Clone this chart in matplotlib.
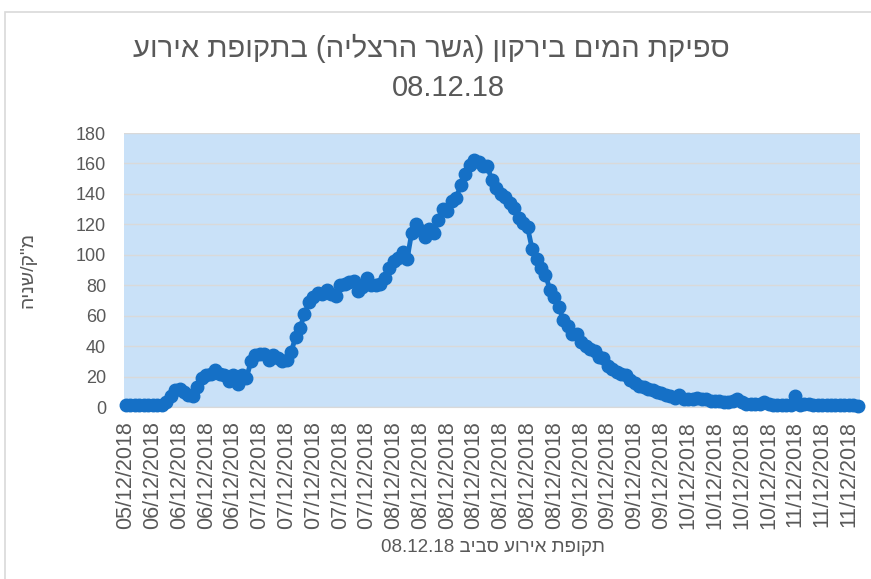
import matplotlib
matplotlib.use("Agg")
import matplotlib.pyplot as plt
from matplotlib.patches import Rectangle

plt.rcParams['font.family'] = ['Liberation Sans', 'DejaVu Sans']

TEXT_COLOR = '#595959'
GRID_COLOR = '#D9D9D9'
LINE_COLOR = '#1570C6'
PLOT_BG = '#C9E1F8'

# logical order of the Hebrew strings; visual() flips them since matplotlib does no bidi
title_line1 = 'ספיקת המים בירקון (גשר הרצליה) בתקופת אירוע'
title_line2 = '08.12.18'
x_title = 'תקופת אירוע סביב'
x_title_date = '08.12.18'
y_title = 'מ"ק/שניה'


def visual(s):
    mirror = {'(': ')', ')': '('}
    return ''.join(mirror.get(c, c) for c in reversed(s))


# flow readings (m^3/s), one per sample along the category axis
flow = [
    1, 1, 1, 1, 1, 1, 1, 1, 1.5, 3,
    7, 11, 12, 10, 8, 7, 13, 19, 21, 22,
    24, 22, 21, 17, 21, 15, 21, 19, 30, 34,
    35, 35, 31, 34, 32, 30, 31, 36, 46, 52,
    61, 69, 72, 75, 74, 77, 74, 73, 80, 81,
    82, 83, 76, 79, 85, 80, 80, 81, 85, 91,
    96, 98, 102, 97, 114, 120, 116, 112, 117, 114,
    123, 130, 129, 135, 137, 146, 153, 159, 162, 161,
    158, 158, 149, 144, 140, 138, 134, 131, 124, 121,
    118, 104, 97, 91, 87, 77, 72, 66, 57, 53,
    48, 48, 43, 40, 38, 37, 33, 32, 27, 25,
    23, 22, 21, 18, 16, 14, 13, 12, 11, 10,
    9, 8, 7, 6, 8, 5, 5, 5, 6, 5,
    5, 4, 4, 4, 3, 3, 4, 5, 3, 2,
    2, 2, 2, 3, 2, 1, 1, 1, 1, 1,
    7, 1, 2, 2, 1, 1, 1, 1, 1, 1,
    1, 1, 1, 1, 0.5,
]

# every 6th sample carries a date label
date_labels = (['05/12/2018'] + ['06/12/2018'] * 4 + ['07/12/2018'] * 5
               + ['08/12/2018'] * 7 + ['09/12/2018'] * 4 + ['10/12/2018'] * 4
               + ['11/12/2018'] * 3)
LABEL_STEP = 6

y_ticks = [0, 20, 40, 60, 80, 100, 120, 140, 160, 180]

W, H = 871, 579
fig = plt.figure(figsize=(W / 100, H / 100), dpi=100)

# chart area border
fig.patches.append(Rectangle((5 / W, -0.01), 1.0, 1 - 12 / H + 0.01,
                             transform=fig.transFigure, fill=False,
                             edgecolor=GRID_COLOR, linewidth=1.2))

ax = fig.add_axes([124 / W, 1 - 407 / H, (860 - 124) / W, 274 / H])
ax.set_facecolor(PLOT_BG)

xs = list(range(len(flow)))
ax.plot(xs, flow, '-o', color=LINE_COLOR, linewidth=3.5, markersize=9,
        markeredgecolor=LINE_COLOR, zorder=3, clip_on=False)

ax.set_xlim(-0.45, len(flow) - 0.5)
ax.set_ylim(0, 180)
ax.set_yticks(y_ticks)
ax.yaxis.grid(True, color=GRID_COLOR, linewidth=1)
ax.set_axisbelow(True)

ax.set_xticks(xs[::LABEL_STEP])
ax.set_xticklabels(date_labels, rotation=90, fontsize=15.5, color=TEXT_COLOR)
ax.tick_params(axis='x', length=0, pad=10)
ax.tick_params(axis='y', length=0, pad=13, labelsize=13, labelcolor=TEXT_COLOR)

for side in ['top', 'right', 'left']:
    ax.spines[side].set_visible(False)
ax.spines['bottom'].set_color(GRID_COLOR)

fig.text(0.495, 1 - 48 / H, visual(title_line1), ha='center', va='center',
         fontsize=21, color=TEXT_COLOR)
fig.text(0.515, 1 - 88 / H, title_line2, ha='center', va='center',
         fontsize=21, color=TEXT_COLOR)
fig.text(493 / W, 1 - 548 / H, x_title_date + ' ' + visual(x_title),
         ha='center', va='center', fontsize=13.5, color=TEXT_COLOR)
fig.text(28 / W, 1 - 270 / H, visual(y_title), ha='center', va='center',
         rotation=90, fontsize=14, color=TEXT_COLOR)

fig.savefig('out.png', dpi=100)
